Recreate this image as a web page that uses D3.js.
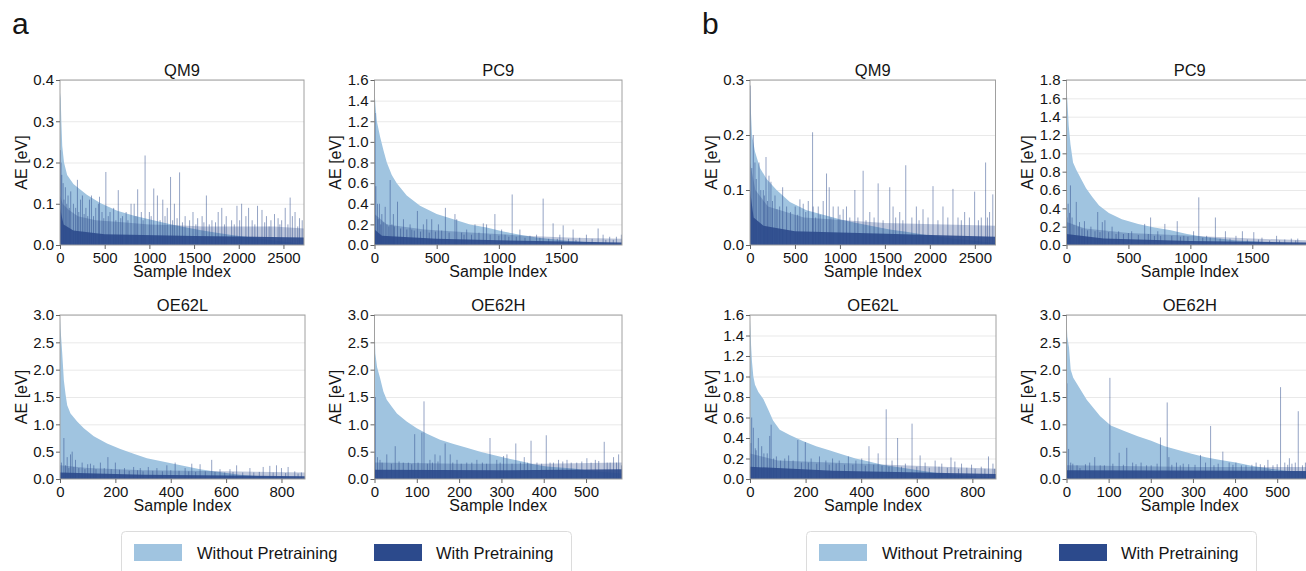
<!DOCTYPE html>
<html><head><meta charset="utf-8">
<script src="https://cdn.jsdelivr.net/npm/d3@7"></script>
<style>
body{margin:0;background:#fff}
svg{display:block}
text{font-family:"Liberation Sans",Arial,Helvetica,sans-serif;fill:#141414}
</style>
</head><body>
<svg id="chart" width="1306" height="571"></svg>
<script>
// ---------------- DATA ----------------
const seriesNames = ["Without Pretraining", "With Pretraining"];
const panelLetters = ["a", "b"];
const datasetTitles = ["QM9", "PC9", "OE62L", "OE62H"];

// sample counts per dataset
const sampleCounts = {QM9: 2730, PC9: 1990, OE62L: 885, OE62H: 585};

// x tick labels
const xTicksQM9 = [0, 500, 1000, 1500, 2000, 2500];
const xTicksPC9 = [0, 500, 1000, 1500];
const xTicksOE62L = [0, 200, 400, 600, 800];
const xTicksOE62H = [0, 100, 200, 300, 400, 500];

// y tick labels
const yTicksA_QM9 = [0, 0.1, 0.2, 0.3, 0.4];
const yTicksA_PC9 = [0, 0.2, 0.4, 0.6, 0.8, 1.0, 1.2, 1.4, 1.6];
const yTicksA_OE62L = [0, 0.5, 1.0, 1.5, 2.0, 2.5, 3.0];
const yTicksA_OE62H = [0, 0.5, 1.0, 1.5, 2.0, 2.5, 3.0];
const yTicksB_QM9 = [0, 0.1, 0.2, 0.3];
const yTicksB_PC9 = [0, 0.2, 0.4, 0.6, 0.8, 1.0, 1.2, 1.4, 1.6, 1.8];
const yTicksB_OE62L = [0, 0.2, 0.4, 0.6, 0.8, 1.0, 1.2, 1.4, 1.6];
const yTicksB_OE62H = [0, 0.5, 1.0, 1.5, 2.0, 2.5, 3.0];

// "Without Pretraining": sorted AE [sample index, eV]
const withoutA_QM9 = [[0,0.37],[8,0.355],[15,0.30],[25,0.24],[45,0.20],[80,0.17],[150,0.148],[300,0.122],[450,0.102],[640,0.083],[830,0.071],[1020,0.061],[1200,0.052],[1400,0.043],[1580,0.036],[1770,0.029],[1960,0.023],[2150,0.018],[2330,0.013],[2520,0.008],[2729,0.002]];
const withoutA_PC9 = [[0,1.58],[3,1.45],[8,1.35],[19,1.2],[45,1.05],[72,0.92],[99,0.8],[139,0.68],[179,0.6],[259,0.48],[366,0.38],[500,0.3],[634,0.25],[768,0.2],[901,0.17],[1035,0.13],[1169,0.1],[1303,0.072],[1436,0.055],[1570,0.04],[1704,0.03],[1838,0.02],[1989,0.01]];
const withoutA_OE62L = [[0,2.95],[2,2.75],[4,2.6],[8,2.3],[14,1.8],[20,1.55],[26,1.35],[38,1.2],[62,1.05],[86,0.93],[122,0.78],[170,0.65],[218,0.55],[266,0.46],[314,0.38],[362,0.33],[410,0.28],[458,0.23],[506,0.18],[554,0.14],[602,0.11],[650,0.08],[698,0.06],[746,0.045],[806,0.03],[884,0.01]];
const withoutA_OE62H = [[0,2.95],[1,2.6],[2,2.3],[6,2.05],[13,1.85],[21,1.6],[29,1.45],[41,1.32],[53,1.2],[76,1.05],[100,0.93],[124,0.83],[155,0.72],[187,0.64],[218,0.57],[250,0.5],[281,0.44],[313,0.38],[344,0.33],[376,0.27],[407,0.23],[439,0.21],[470,0.19],[502,0.16],[541,0.13],[584,0.1]];
const withoutB_QM9 = [[0,0.29],[5,0.27],[11,0.24],[22,0.2],[55,0.17],[111,0.14],[185,0.12],[296,0.1],[444,0.078],[629,0.063],[814,0.055],[999,0.047],[1184,0.04],[1369,0.034],[1554,0.028],[1739,0.024],[1924,0.019],[2109,0.015],[2294,0.011],[2479,0.008],[2729,0.003]];
const withoutB_PC9 = [[0,1.75],[3,1.65],[8,1.55],[18,1.3],[32,1.1],[53,0.9],[79,0.82],[118,0.72],[158,0.62],[210,0.52],[263,0.43],[342,0.35],[447,0.28],[579,0.23],[710,0.19],[842,0.16],[973,0.12],[1105,0.09],[1236,0.07],[1368,0.05],[1499,0.04],[1631,0.03],[1762,0.022],[1888,0.015],[1989,0.01]];
const withoutB_OE62L = [[0,1.55],[2,1.45],[4,1.3],[7,1.15],[12,1.0],[18,0.92],[30,0.85],[48,0.78],[65,0.68],[83,0.57],[107,0.48],[143,0.43],[190,0.37],[238,0.32],[285,0.28],[333,0.24],[380,0.2],[428,0.17],[476,0.14],[523,0.12],[571,0.1],[618,0.08],[666,0.06],[725,0.045],[785,0.03],[884,0.015]];
const withoutB_OE62H = [[0,2.95],[2,2.6],[6,2.4],[10,2.0],[16,1.85],[24,1.75],[36,1.6],[48,1.45],[64,1.3],[80,1.15],[105,0.98],[137,0.88],[169,0.78],[201,0.7],[233,0.6],[265,0.53],[297,0.46],[330,0.4],[362,0.35],[402,0.3],[442,0.24],[482,0.19],[523,0.15],[584,0.12]];

// "With Pretraining": solid low part of the bar cloud (sample index, eV)
const floorA_QM9 = [[0,0.09],[40,0.05],[150,0.035],[500,0.026],[1500,0.022],[2730,0.018]];
const floorA_PC9 = [[0,0.15],[60,0.09],[500,0.06],[1000,0.045],[1990,0.025]];
const floorA_OE62L = [[0,0.12],[300,0.08],[885,0.05]];
const floorA_OE62H = [[0,0.17],[300,0.16],[585,0.18]];
const floorB_QM9 = [[0,0.1],[40,0.05],[150,0.035],[500,0.025],[2730,0.015]];
const floorB_PC9 = [[0,0.12],[300,0.07],[1000,0.045],[1990,0.025]];
const floorB_OE62L = [[0,0.12],[300,0.08],[885,0.05]];
const floorB_OE62H = [[0,0.16],[585,0.15]];

// "With Pretraining": upper edge of the dense bar cloud (sample index, eV)
const bandA_QM9 = [[0,0.12],[30,0.1],[100,0.085],[200,0.07],[400,0.06],[700,0.055],[1000,0.05],[1300,0.048],[1600,0.045],[2400,0.045],[2730,0.04]];
const bandA_PC9 = [[0,0.3],[100,0.2],[400,0.15],[800,0.12],[1200,0.09],[1600,0.07],[1990,0.06]];
const bandA_OE62L = [[0,0.25],[100,0.2],[300,0.16],[600,0.14],[885,0.12]];
const bandA_OE62H = [[0,0.3],[200,0.28],[400,0.28],[585,0.3]];
const bandB_QM9 = [[0,0.15],[60,0.1],[200,0.07],[600,0.05],[1500,0.04],[2730,0.035]];
const bandB_PC9 = [[0,0.25],[150,0.18],[500,0.13],[1000,0.1],[1500,0.07],[1990,0.05]];
const bandB_OE62L = [[0,0.25],[100,0.18],[400,0.15],[885,0.1]];
const bandB_OE62H = [[0,0.25],[300,0.22],[585,0.22]];

// "With Pretraining": individual visible bars (sample index, eV)
const withA_QM9 = [[5,0.23],[12,0.2],[20,0.17],[35,0.15],[45,0.11],[60,0.14],[75,0.1],[90,0.12],[105,0.09],[120,0.13],[150,0.10],[175,0.09],[195,0.158],[210,0.08],[230,0.11],[251,0.12],[270,0.075],[290,0.09],[310,0.07],[330,0.11],[352,0.12],[375,0.07],[400,0.09],[430,0.10],[442,0.117],[470,0.08],[490,0.065],[513,0.177],[540,0.07],[560,0.08],[600,0.09],[625,0.06],[652,0.133],[680,0.065],[700,0.07],[740,0.08],[760,0.06],[795,0.10],[830,0.10],[850,0.07],[869,0.135],[910,0.08],[930,0.06],[952,0.217],[1000,0.08],[1020,0.07],[1049,0.137],[1090,0.12],[1120,0.06],[1150,0.11],[1175,0.07],[1200,0.09],[1237,0.165],[1260,0.06],[1280,0.10],[1310,0.065],[1338,0.176],[1370,0.055],[1400,0.07],[1450,0.06],[1488,0.08],[1520,0.05],[1540,0.065],[1590,0.07],[1610,0.055],[1638,0.12],[1670,0.05],[1700,0.06],[1740,0.055],[1770,0.08],[1810,0.09],[1840,0.05],[1860,0.07],[1920,0.06],[1950,0.05],[1980,0.095],[2010,0.06],[2032,0.1],[2080,0.07],[2110,0.09],[2150,0.06],[2180,0.05],[2210,0.095],[2260,0.085],[2290,0.055],[2310,0.07],[2340,0.045],[2360,0.06],[2400,0.075],[2440,0.065],[2460,0.05],[2480,0.06],[2520,0.09],[2550,0.05],[2575,0.115],[2600,0.07],[2630,0.08],[2660,0.045],[2680,0.065],[2710,0.06]];
const withA_PC9 = [[5,1.28],[11,0.57],[24,0.4],[30,0.25],[40,0.4],[50,0.2],[59,0.3],[70,0.22],[86,0.37],[100,0.2],[115,0.18],[126,0.63],[140,0.2],[152,0.3],[160,0.18],[185,0.42],[210,0.16],[233,0.25],[260,0.15],[286,0.2],[300,0.15],[320,0.14],[345,0.33],[370,0.13],[393,0.2],[420,0.25],[440,0.12],[460,0.25],[490,0.13],[514,0.2],[540,0.14],[570,0.36],[600,0.12],[647,0.3],[661,0.25],[700,0.12],[720,0.1],[741,0.15],[780,0.1],[808,0.2],[840,0.12],[875,0.21],[901,0.2],[930,0.1],[968,0.3],[1000,0.09],[1022,0.15],[1050,0.1],[1080,0.08],[1107,0.49],[1140,0.08],[1169,0.15],[1210,0.07],[1250,0.09],[1303,0.1],[1330,0.07],[1356,0.45],[1400,0.06],[1436,0.21],[1470,0.06],[1490,0.1],[1517,0.19],[1560,0.06],[1597,0.15],[1620,0.05],[1650,0.07],[1704,0.1],[1750,0.06],[1798,0.16],[1838,0.1],[1860,0.05],[1891,0.08],[1920,0.05],[1945,0.08],[1985,0.1]];
const withA_OE62L = [[5,0.3],[14,0.75],[20,0.25],[26,0.4],[32,0.2],[38,0.45],[44,0.5],[50,0.22],[56,0.35],[68,0.2],[80,0.3],[90,0.18],[100,0.27],[110,0.28],[122,0.25],[130,0.18],[146,0.3],[160,0.2],[173,0.4],[185,0.18],[200,0.3],[215,0.17],[233,0.2],[250,0.15],[266,0.22],[280,0.16],[290,0.2],[300,0.14],[319,0.22],[335,0.15],[350,0.2],[370,0.14],[386,0.25],[400,0.16],[416,0.3],[430,0.15],[452,0.2],[465,0.14],[476,0.28],[490,0.13],[506,0.27],[525,0.14],[548,0.35],[560,0.13],[578,0.18],[595,0.12],[614,0.18],[625,0.13],[638,0.25],[660,0.12],[686,0.2],[700,0.12],[720,0.13],[734,0.22],[758,0.24],[770,0.12],[782,0.25],[800,0.2],[815,0.11],[824,0.22],[848,0.14],[860,0.1],[872,0.12]];
const withA_OE62H = [[2,1.5],[7,0.4],[13,0.35],[18,0.3],[29,0.45],[40,0.28],[49,0.6],[58,0.32],[68,0.3],[80,0.3],[88,0.27],[95,0.82],[103,0.3],[112,0.85],[117,1.42],[125,0.28],[131,0.35],[137,0.3],[143,0.45],[150,0.32],[155,0.43],[167,0.65],[179,0.45],[185,0.3],[195,0.35],[205,0.28],[218,0.3],[230,0.3],[242,0.35],[255,0.3],[265,0.28],[273,0.75],[289,0.35],[297,0.3],[305,0.42],[313,0.45],[325,0.28],[334,0.65],[345,0.3],[354,0.4],[362,0.3],[370,0.7],[384,0.3],[395,0.28],[406,0.8],[415,0.3],[423,0.3],[435,0.35],[445,0.32],[455,0.35],[465,0.3],[478,0.3],[490,0.32],[502,0.38],[512,0.3],[522,0.35],[530,0.33],[543,0.68],[550,0.3],[557,0.3],[565,0.4],[572,0.3],[577,0.45],[584,0.25]];
const withB_QM9 = [[3,0.29],[20,0.14],[37,0.2],[55,0.15],[70,0.12],[100,0.15],[120,0.1],[148,0.1],[160,0.09],[178,0.16],[195,0.08],[211,0.126],[233,0.115],[250,0.08],[278,0.09],[300,0.065],[330,0.07],[363,0.105],[407,0.07],[450,0.06],[503,0.07],[530,0.055],[555,0.083],[592,0.075],[620,0.06],[648,0.08],[696,0.205],[703,0.07],[730,0.05],[759,0.07],[780,0.055],[814,0.08],[851,0.13],[881,0.105],[900,0.05],[925,0.07],[981,0.07],[1000,0.055],[1036,0.065],[1073,0.07],[1110,0.05],[1166,0.1],[1200,0.05],[1258,0.135],[1290,0.045],[1332,0.06],[1380,0.05],[1425,0.112],[1480,0.045],[1554,0.105],[1591,0.07],[1620,0.05],[1665,0.06],[1700,0.045],[1732,0.145],[1800,0.05],[1850,0.07],[1880,0.045],[1924,0.065],[1980,0.05],[2035,0.107],[2090,0.045],[2146,0.07],[2200,0.05],[2257,0.102],[2313,0.05],[2350,0.045],[2387,0.06],[2440,0.05],[2498,0.097],[2540,0.045],[2572,0.05],[2620,0.15],[2640,0.05],[2664,0.06],[2700,0.092]];
const withB_PC9 = [[3,0.3],[13,0.45],[24,0.35],[32,0.65],[45,0.3],[60,0.22],[79,0.47],[95,0.2],[105,0.25],[125,0.18],[145,0.26],[170,0.16],[197,0.2],[230,0.15],[252,0.36],[270,0.14],[289,0.25],[310,0.27],[340,0.14],[368,0.2],[400,0.12],[421,0.15],[460,0.12],[500,0.13],[526,0.15],[580,0.11],[631,0.23],[660,0.12],[679,0.3],[710,0.1],[737,0.15],[760,0.1],[794,0.23],[850,0.1],[894,0.26],[920,0.09],[947,0.1],[980,0.09],[1026,0.15],[1068,0.52],[1100,0.08],[1131,0.1],[1160,0.08],[1202,0.3],[1240,0.07],[1283,0.15],[1320,0.07],[1368,0.1],[1420,0.15],[1460,0.06],[1512,0.14],[1550,0.06],[1578,0.08],[1640,0.05],[1696,0.1],[1720,0.05],[1762,0.06],[1815,0.07],[1850,0.05],[1867,0.07]];
const withB_OE62L = [[3,0.35],[6,0.6],[12,0.5],[19,0.3],[22,0.28],[30,0.4],[42,0.32],[50,0.25],[62,0.25],[71,0.42],[76,0.53],[85,0.2],[95,0.22],[110,0.18],[125,0.2],[139,0.23],[155,0.18],[172,0.38],[185,0.16],[199,0.36],[210,0.16],[220,0.2],[240,0.15],[250,0.22],[273,0.18],[285,0.14],[297,0.2],[310,0.15],[321,0.18],[340,0.14],[354,0.22],[370,0.14],[381,0.18],[402,0.2],[415,0.13],[428,0.32],[445,0.14],[461,0.25],[475,0.13],[490,0.68],[500,0.12],[511,0.18],[531,0.4],[545,0.12],[559,0.15],[583,0.54],[600,0.12],[612,0.23],[630,0.16],[645,0.11],[666,0.18],[680,0.12],[690,0.15],[710,0.11],[723,0.21],[737,0.17],[750,0.1],[761,0.15],[780,0.11],[797,0.14],[810,0.1],[832,0.12],[845,0.1],[858,0.22],[874,0.15],[880,0.1]];
const withB_OE62H = [[1,1.75],[5,0.55],[10,0.3],[15,0.28],[25,0.25],[32,0.2],[45,0.27],[55,0.3],[67,0.4],[80,0.25],[90,0.25],[103,1.85],[110,0.28],[125,0.48],[135,0.26],[143,0.57],[157,0.3],[165,0.27],[177,0.3],[190,0.25],[201,0.25],[215,0.28],[223,0.76],[239,1.4],[243,0.4],[250,0.26],[261,0.3],[270,0.25],[277,0.28],[290,0.27],[305,0.26],[318,0.44],[330,0.3],[342,0.97],[350,0.25],[360,0.28],[371,0.5],[386,0.3],[395,0.26],[402,0.3],[415,0.25],[426,0.25],[440,0.26],[450,0.3],[460,0.27],[470,0.25],[478,0.35],[490,0.25],[500,0.27],[508,1.68],[518,0.3],[525,0.26],[529,0.38],[535,0.28],[543,0.3],[550,1.24],[560,0.25],[567,0.3],[572,2.22],[580,0.27]];

// ---------------- LAYOUT / STYLE ----------------
const LIGHT = "#a0c4e0", DARK = "#2c4a8c";
const TOP = [80, 245], BOT = [315, 479];
const panels = [
  {id:"aQM9",  t:"QM9",   x:[60,304],      y:TOP, yMax:0.4, yT:yTicksA_QM9,  xT:xTicksQM9,  wo:withoutA_QM9,  fl:floorA_QM9,  bd:bandA_QM9,  wi:withA_QM9},
  {id:"aPC9",  t:"PC9",   x:[374.5,622],   y:TOP, yMax:1.6, yT:yTicksA_PC9,  xT:xTicksPC9,  wo:withoutA_PC9,  fl:floorA_PC9,  bd:bandA_PC9,  wi:withA_PC9},
  {id:"aOE62L",t:"OE62L", x:[60,305],      y:BOT, yMax:3.0, yT:yTicksA_OE62L,xT:xTicksOE62L,wo:withoutA_OE62L,fl:floorA_OE62L,bd:bandA_OE62L,wi:withA_OE62L},
  {id:"aOE62H",t:"OE62H", x:[374.5,622],   y:BOT, yMax:3.0, yT:yTicksA_OE62H,xT:xTicksOE62H,wo:withoutA_OE62H,fl:floorA_OE62H,bd:bandA_OE62H,wi:withA_OE62H},
  {id:"bQM9",  t:"QM9",   x:[750,995.5],   y:TOP, yMax:0.3, yT:yTicksB_QM9,  xT:xTicksQM9,  wo:withoutB_QM9,  fl:floorB_QM9,  bd:bandB_QM9,  wi:withB_QM9},
  {id:"bPC9",  t:"PC9",   x:[1066.5,1313], y:TOP, yMax:1.8, yT:yTicksB_PC9,  xT:xTicksPC9,  wo:withoutB_PC9,  fl:floorB_PC9,  bd:bandB_PC9,  wi:withB_PC9},
  {id:"bOE62L",t:"OE62L", x:[750,996],     y:BOT, yMax:1.6, yT:yTicksB_OE62L,xT:xTicksOE62L,wo:withoutB_OE62L,fl:floorB_OE62L,bd:bandB_OE62L,wi:withB_OE62L},
  {id:"bOE62H",t:"OE62H", x:[1066.5,1313], y:BOT, yMax:3.0, yT:yTicksB_OE62H,xT:xTicksOE62H,wo:withoutB_OE62H,fl:floorB_OE62H,bd:bandB_OE62H,wi:withB_OE62H}
];

const svg = d3.select("#chart");
const defs = svg.append("defs");
const fmtY = d3.format(".1f");
const FONT = '"Liberation Sans",Arial,sans-serif';

panels.forEach(p => {
  const n = sampleCounts[p.t];
  const x = d3.scaleLinear().domain([0, n]).range(p.x);
  const y = d3.scaleLinear().domain([0, p.yMax]).range([p.y[1], p.y[0]]);
  const g = svg.append("g");

  defs.append("clipPath").attr("id", "clip-" + p.id)
    .append("rect").attr("x", p.x[0]).attr("y", p.y[0])
    .attr("width", p.x[1] - p.x[0]).attr("height", p.y[1] - p.y[0]);

  // grid
  g.append("g").selectAll("line").data(p.yT.slice(1)).join("line")
    .attr("x1", p.x[0]).attr("x2", p.x[1])
    .attr("y1", d => y(d) + 0.5).attr("y2", d => y(d) + 0.5)
    .attr("stroke", "#e9e9e9").attr("stroke-width", 1);

  const plot = g.append("g").attr("clip-path", `url(#clip-${p.id})`);
  const area = d3.area().x(d => x(d[0])).y0(y(0)).y1(d => y(d[1]));

  plot.append("path").datum(p.wo).attr("d", area).attr("fill", LIGHT);
  plot.append("path").datum(p.bd).attr("d", area).attr("fill", DARK).attr("fill-opacity", 0.3);
  plot.append("g").selectAll("line").data(p.wi).join("line")
    .attr("x1", d => x(d[0])).attr("x2", d => x(d[0]))
    .attr("y1", y(0)).attr("y2", d => y(d[1]))
    .attr("stroke", DARK).attr("stroke-width", 1).attr("stroke-opacity", 0.5);
  plot.append("path").datum(p.fl).attr("d", area).attr("fill", DARK).attr("fill-opacity", 0.9);

  // frame
  g.append("rect").attr("x", p.x[0]).attr("y", p.y[0])
    .attr("width", p.x[1] - p.x[0]).attr("height", p.y[1] - p.y[0])
    .attr("fill", "none").attr("stroke", "#a0a0a0").attr("stroke-width", 1);

  // axes
  const ax = g.append("g").attr("transform", `translate(0,${p.y[1]})`)
    .call(d3.axisBottom(x).tickValues(p.xT).tickFormat(d3.format("d")).tickSize(4).tickPadding(3));
  const ay = g.append("g").attr("transform", `translate(${p.x[0]},0)`)
    .call(d3.axisLeft(y).tickValues(p.yT).tickFormat(fmtY).tickSize(4).tickPadding(2));
  [ax, ay].forEach(a => {
    a.select(".domain").remove();
    a.selectAll(".tick line").attr("stroke", "#666");
    a.selectAll(".tick text").attr("font-size", 15).attr("fill", "#141414").style("font-family", FONT);
  });

  g.append("text").attr("x", (p.x[0] + p.x[1]) / 2).attr("y", p.y[0] - 4)
    .attr("text-anchor", "middle").attr("font-size", 16.5).text(p.t);
  g.append("text").attr("x", (p.x[0] + p.x[1]) / 2).attr("y", p.y[1] + 32)
    .attr("text-anchor", "middle").attr("font-size", 16).text("Sample Index");
  g.append("text").attr("transform", `translate(${p.x[0] - 39},${(p.y[0] + p.y[1]) / 2}) rotate(-90)`)
    .attr("text-anchor", "middle").attr("dy", "0.35em").attr("font-size", 16).text("AE [eV]");
});

// panel letters
[[12, panelLetters[0]], [702, panelLetters[1]]].forEach(([lx, t]) => {
  svg.append("text").attr("x", lx).attr("y", 34).attr("font-size", 30).text(t);
});

// legends
[0, 685].forEach(off => {
  const lg = svg.append("g").attr("transform", `translate(${off},0)`);
  lg.append("rect").attr("x", 121.5).attr("y", 531.5).attr("width", 450).attr("height", 60)
    .attr("rx", 4).attr("fill", "#fff").attr("stroke", "#dcdcdc");
  lg.append("rect").attr("x", 134).attr("y", 544).attr("width", 48).attr("height", 17).attr("fill", LIGHT);
  lg.append("text").attr("x", 197).attr("y", 559).attr("font-size", 16.5).text(seriesNames[0]);
  lg.append("rect").attr("x", 374).attr("y", 544).attr("width", 48).attr("height", 17).attr("fill", DARK);
  lg.append("text").attr("x", 436).attr("y", 559).attr("font-size", 16.5).text(seriesNames[1]);
});
</script>
</body></html>
